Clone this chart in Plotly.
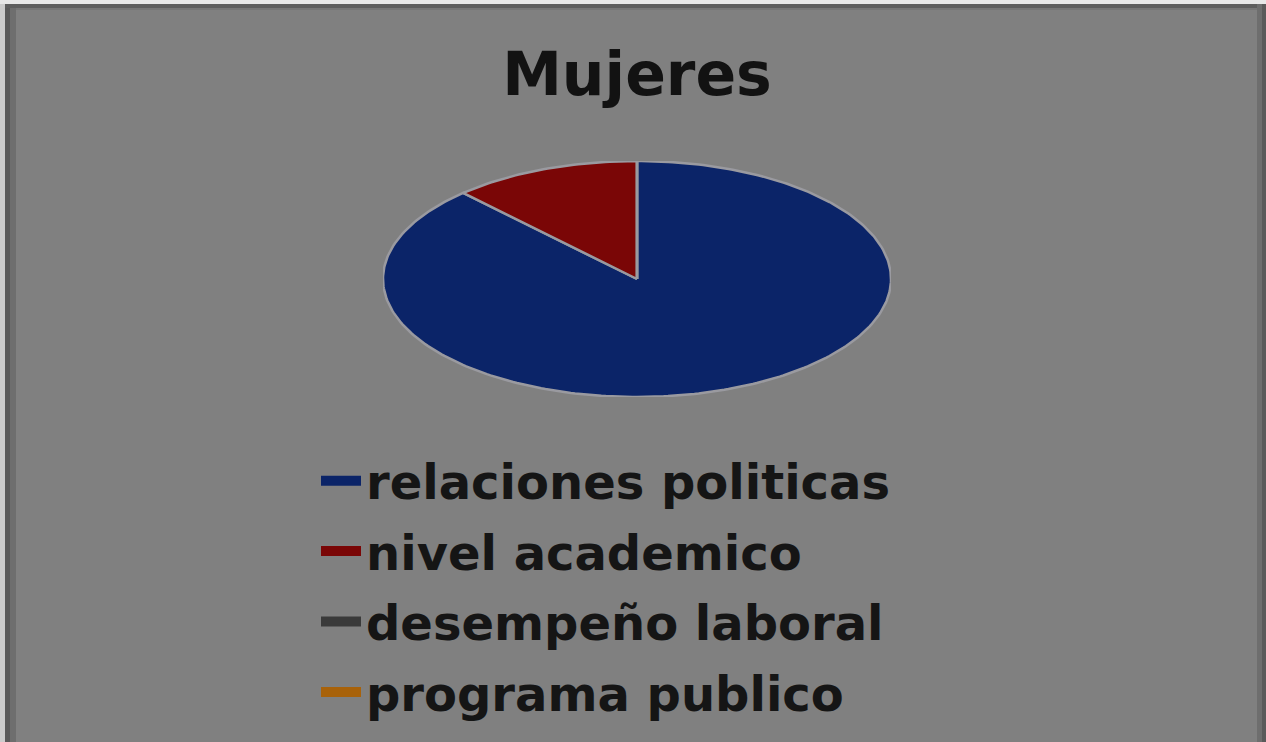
import numpy as np
import plotly.graph_objects as go

# ---- data ----
categories = ["relaciones politicas", "nivel academico", "desempeño laboral", "programa publico"]
values = [88, 12, 0, 0]
colors = ["#0b2468", "#7a0606", "#3a3a3a", "#a8620a"]
title_text = "Mujeres"

W, H = 1266, 742
cx, cy, rx, ry = 637, 279, 254, 118

fig = go.Figure()

total = float(sum(values))
start = 0.0
for name, v, c in zip(categories, values, colors):
    frac = v / total
    a0 = start * 2 * np.pi
    a1 = (start + frac) * 2 * np.pi
    n = max(2, int(frac * 360))
    th = np.linspace(a0, a1, n)
    xs = np.concatenate([[0], np.sin(th), [0]])
    ys = np.concatenate([[0], np.cos(th), [0]])
    fig.add_trace(go.Scatter(
        x=xs, y=ys, mode="lines", fill="toself", fillcolor=c,
        line=dict(color="#9a9aa0", width=2.5),
        name=name, legendgroup=name, showlegend=False, hoverinfo="name",
    ))
    # legend entry (no data, only the key)
    fig.add_trace(go.Scatter(
        x=[None], y=[None], mode="lines", line=dict(color=c, width=14),
        name=name, legendgroup=name, showlegend=True, hoverinfo="skip",
    ))
    start += frac

fig.update_layout(
    width=W, height=H,
    margin=dict(l=0, r=0, t=0, b=0),
    paper_bgcolor="#808080",
    plot_bgcolor="rgba(0,0,0,0)",
    title=dict(text=title_text, x=cx / W, xanchor="center", y=1 - 74 / H, yanchor="middle",
               font=dict(family="DejaVu Sans", size=60, color="#121212", weight="bold")),
    xaxis=dict(domain=[(cx - rx) / W, (cx + rx) / W], range=[-1, 1], visible=False, fixedrange=True),
    yaxis=dict(domain=[(H - (cy + ry)) / H, (H - (cy - ry)) / H], range=[-1, 1], visible=False, fixedrange=True),
    showlegend=True,
    legend=dict(x=316 / W, y=1 - 443 / H, xanchor="left", yanchor="top",
                bgcolor="rgba(0,0,0,0)", tracegroupgap=5, itemwidth=40,
                font=dict(family="DejaVu Sans", size=48, color="#151515", weight="bold")),
    shapes=[
        dict(type="rect", xref="paper", yref="paper", x0=0, x1=5 / W, y0=0, y1=1, fillcolor="#cccccc", line_width=0, layer="above"),
        dict(type="rect", xref="paper", yref="paper", x0=5 / W, x1=10 / W, y0=0, y1=1, fillcolor="#5a5a5a", line_width=0, layer="above"),
        dict(type="rect", xref="paper", yref="paper", x0=10 / W, x1=16 / W, y0=0, y1=1, fillcolor="#6e6e6e", line_width=0, layer="above"),
        dict(type="rect", xref="paper", yref="paper", x0=0, x1=1, y0=1 - 4 / H, y1=1, fillcolor="#e8e8e8", line_width=0, layer="above"),
        dict(type="rect", xref="paper", yref="paper", x0=5 / W, x1=1, y0=1 - 8 / H, y1=1 - 4 / H, fillcolor="#5e5e5e", line_width=0, layer="above"),
        dict(type="rect", xref="paper", yref="paper", x0=16 / W, x1=1257 / W, y0=1 - 10 / H, y1=1 - 8 / H, fillcolor="#777777", line_width=0, layer="above"),
        dict(type="rect", xref="paper", yref="paper", x0=1257 / W, x1=1262 / W, y0=0, y1=1 - 4 / H, fillcolor="#6e6e6e", line_width=0, layer="above"),
        dict(type="rect", xref="paper", yref="paper", x0=1262 / W, x1=1, y0=0, y1=1 - 4 / H, fillcolor="#5a5a5a", line_width=0, layer="above"),
    ],
)

fig.write_html("out.html", config={"displayModeBar": False},
               post_script="document.body.style.margin='0';")
